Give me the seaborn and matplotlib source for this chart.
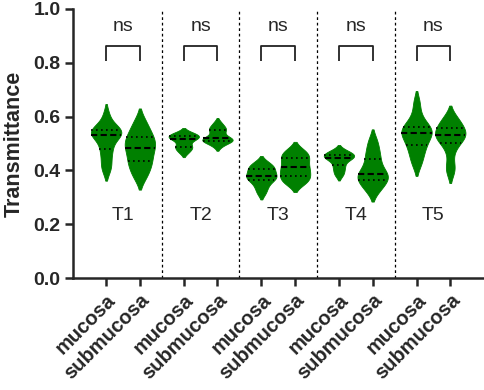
import numpy as np
import pandas as pd
import matplotlib
matplotlib.use("Agg")
import matplotlib.pyplot as plt
import seaborn as sns

sns.set_style("ticks")
plt.rcParams["font.family"] = ["Liberation Sans", "DejaVu Sans"]

groups = ["T1", "T2", "T3", "T4", "T5"]
tissues = ["mucosa", "submucosa"]
positions = [0.0, 1.0, 2.3, 3.3, 4.6, 5.6, 6.9, 7.9, 9.2, 10.2]

t1_mucosa = [0.401, 0.42, 0.45, 0.475, 0.49, 0.52, 0.53, 0.535, 0.54, 0.545, 0.55, 0.555, 0.57, 0.608]
t1_submucosa = [0.371, 0.395, 0.415, 0.43, 0.445, 0.46, 0.48, 0.49, 0.50, 0.51, 0.528, 0.54, 0.56, 0.588]
t2_mucosa = [0.466, 0.478, 0.488, 0.489, 0.505, 0.515, 0.52, 0.524, 0.527, 0.53, 0.535, 0.541]
t2_submucosa = [0.491, 0.505, 0.51, 0.51, 0.515, 0.518, 0.522, 0.535, 0.55, 0.553, 0.562, 0.577]
t3_mucosa = [0.315, 0.335, 0.35, 0.364, 0.37, 0.375, 0.38, 0.388, 0.398, 0.406, 0.412, 0.42, 0.431]
t3_submucosa = [0.348, 0.36, 0.37, 0.378, 0.39, 0.40, 0.411, 0.42, 0.435, 0.446, 0.455, 0.465, 0.478]
t4_mucosa = [0.382, 0.395, 0.41, 0.419, 0.435, 0.442, 0.448, 0.451, 0.455, 0.458, 0.462, 0.468, 0.475]
t4_submucosa = [0.323, 0.34, 0.355, 0.365, 0.375, 0.382, 0.388, 0.40, 0.42, 0.442, 0.46, 0.485, 0.514]
t5_mucosa = [0.422, 0.45, 0.475, 0.493, 0.51, 0.525, 0.539, 0.545, 0.552, 0.56, 0.575, 0.605, 0.653]
t5_submucosa = [0.394, 0.42, 0.47, 0.502, 0.515, 0.522, 0.53, 0.538, 0.548, 0.558, 0.568, 0.585, 0.60]

series = [t1_mucosa, t1_submucosa, t2_mucosa, t2_submucosa, t3_mucosa,
          t3_submucosa, t4_mucosa, t4_submucosa, t5_mucosa, t5_submucosa]
sig_labels = ["ns", "ns", "ns", "ns", "ns"]
tick_labels = ["mucosa", "submucosa"] * 5

rows = []
for pos, vals in zip(positions, series):
    for v in vals:
        rows.append({"pos": pos, "value": v})
df = pd.DataFrame(rows)

green = "#008000"

fig = plt.figure(figsize=(4.84, 3.90), dpi=100)
ax = fig.add_axes([0.151, 0.287, 0.849, 0.690])

sns.violinplot(data=df, x="pos", y="value", native_scale=True, color=green,
               saturation=1, linecolor=green, linewidth=0.6, cut=1.5, bw_adjust=0.75,
               density_norm="width", width=0.9, inner="quart",
               inner_kws={"color": "black", "linewidth": 1.3}, ax=ax)

# style the quartile lines: median dashed, quartiles dotted
inner_lines = list(ax.lines)
for i, ln in enumerate(inner_lines):
    if i % 3 == 1:
        ln.set_linewidth(1.5)
        ln.set_dashes((3.0, 1.6))
    else:
        ln.set_linewidth(1.2)
        ln.set_dashes((1.0, 2.0))

ax.set_xlim(-0.98, 11.2)
ax.set_ylim(0, 1.0)
ax.set_yticks([0.0, 0.2, 0.4, 0.6, 0.8, 1.0])
ax.set_yticklabels([f"{t:.1f}" for t in [0.0, 0.2, 0.4, 0.6, 0.8, 1.0]],
                   fontsize=14, fontweight="bold")
ax.set_xticks(positions)
ax.set_xticklabels(tick_labels, rotation=45, ha="right", rotation_mode="anchor",
                   fontsize=14.5, fontweight="bold")
ax.set_xlabel("")
ax.set_ylabel("Transmittance", fontsize=15.5, fontweight="bold", labelpad=6)

for side in ["top", "right"]:
    ax.spines[side].set_visible(False)
for side in ["left", "bottom"]:
    ax.spines[side].set_linewidth(1.8)
ax.tick_params(axis="both", length=6, width=1.8, pad=3)

for i, g in enumerate(groups):
    x0 = positions[2 * i]
    x1 = positions[2 * i + 1]
    xc = (x0 + x1) / 2
    ax.plot([x0, x0, x1, x1], [0.805, 0.861, 0.861, 0.805], color="#222222", lw=1.3,
            solid_capstyle="butt")
    ax.text(xc, 0.935, sig_labels[i], ha="center", va="center", fontsize=14)
    ax.text(xc, 0.231, g, ha="center", va="center", fontsize=14)
    if i < len(groups) - 1:
        xd = (x1 + positions[2 * i + 2]) / 2
        ax.axvline(xd, ymin=0, ymax=1, color="black", lw=0.9, linestyle=(0, (2.2, 2.2)))

fig.savefig("out.png", dpi=100)
